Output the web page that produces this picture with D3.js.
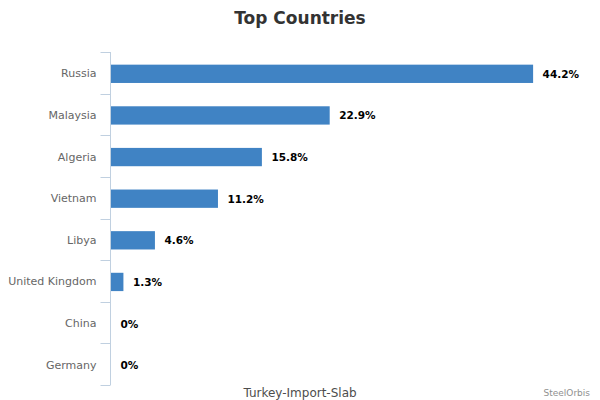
<!DOCTYPE html>
<html>
<head>
<meta charset="utf-8">
<script src="https://cdn.jsdelivr.net/npm/d3@7"></script>
<style>
    body { margin: 0; background: #fff; }
    svg { display: block; font-family: "DejaVu Sans", sans-serif; }
</style>
</head>
<body>
<div id="chart"></div>
<script>
// Chart data
const countries = ['Russia', 'Malaysia', 'Algeria', 'Vietnam', 'Libya', 'United Kingdom', 'China', 'Germany'];
const shares = [44.2, 22.9, 15.8, 11.2, 4.6, 1.3, 0, 0];
const chartTitle = 'Top Countries';
const axisTitle = 'Turkey-Import-Slab';
const credit = 'SteelOrbis';

function createTopCountries(container) {
    const width = 600;
    const height = 400;
    const margin = {top: 52, right: 12, bottom: 15, left: 110.5};

    const data = countries.map((c, i) => ({country: c, value: shares[i]}));

    const svg = d3.select(container)
        .append('svg')
        .attr('width', width)
        .attr('height', height);

    const x = d3.scaleLinear()
        .domain([0, 50])
        .range([margin.left, width - margin.right]);

    const y = d3.scaleBand()
        .domain(countries)
        .range([margin.top, height - margin.bottom])
        .paddingInner(0.56)
        .paddingOuter(0.28);

    // Title
    svg.append('text')
        .attr('x', width / 2)
        .attr('y', 24)
        .attr('text-anchor', 'middle')
        .attr('fill', '#333')
        .style('font-size', '17px')
        .style('font-weight', 'bold')
        .text(chartTitle);

    // Category axis
    const yAxis = svg.append('g')
        .attr('transform', `translate(${margin.left},1)`)
        .call(d3.axisLeft(y).tickSize(0).tickPadding(14));
    yAxis.select('.domain').remove();
    yAxis.selectAll('text')
        .attr('fill', '#666')
        .style('font-size', '11px')
        .style('font-family', '"DejaVu Sans", sans-serif');

    // axis line and tick marks between categories
    const step = y.step();
    const edges = d3.range(countries.length + 1).map(i => margin.top + i * step);
    svg.append('line')
        .attr('x1', margin.left).attr('x2', margin.left)
        .attr('y1', margin.top).attr('y2', height - margin.bottom)
        .attr('stroke', '#C0D0E0');
    svg.selectAll('.cat-tick')
        .data(edges)
        .enter().append('line')
        .attr('class', 'cat-tick')
        .attr('x1', margin.left - 10).attr('x2', margin.left)
        .attr('y1', d => Math.round(d) + 0.5).attr('y2', d => Math.round(d) + 0.5)
        .attr('stroke', '#C0D0E0');

    // Bars (drawn 1px lower, as in the original)
    svg.selectAll('.bar')
        .data(data)
        .enter().append('rect')
        .attr('class', 'bar')
        .attr('x', x(0) + 0.5)
        .attr('y', d => y(d.country) + 1)
        .attr('width', d => Math.max(0, x(d.value) - x(0)))
        .attr('height', y.bandwidth())
        .attr('fill', '#4083C4');

    // Value labels
    svg.selectAll('.val')
        .data(data)
        .enter().append('text')
        .attr('class', 'val')
        .attr('x', d => x(d.value) + 10)
        .attr('y', d => y(d.country) + 1 + y.bandwidth() / 2)
        .attr('dy', '0.38em')
        .attr('fill', '#000')
        .style('font-size', '10.5px')
        .style('font-weight', 'bold')
        .text(d => d.value + '%');

    // Axis title
    svg.append('text')
        .attr('x', 300)
        .attr('y', 397)
        .attr('text-anchor', 'middle')
        .attr('fill', '#4d4d4d')
        .style('font-size', '12px')
        .text(axisTitle);

    // Credit
    svg.append('text')
        .attr('x', 590)
        .attr('y', 396)
        .attr('text-anchor', 'end')
        .attr('fill', '#909090')
        .style('font-size', '9px')
        .text(credit);
}

createTopCountries('#chart');
</script>
</body>
</html>
